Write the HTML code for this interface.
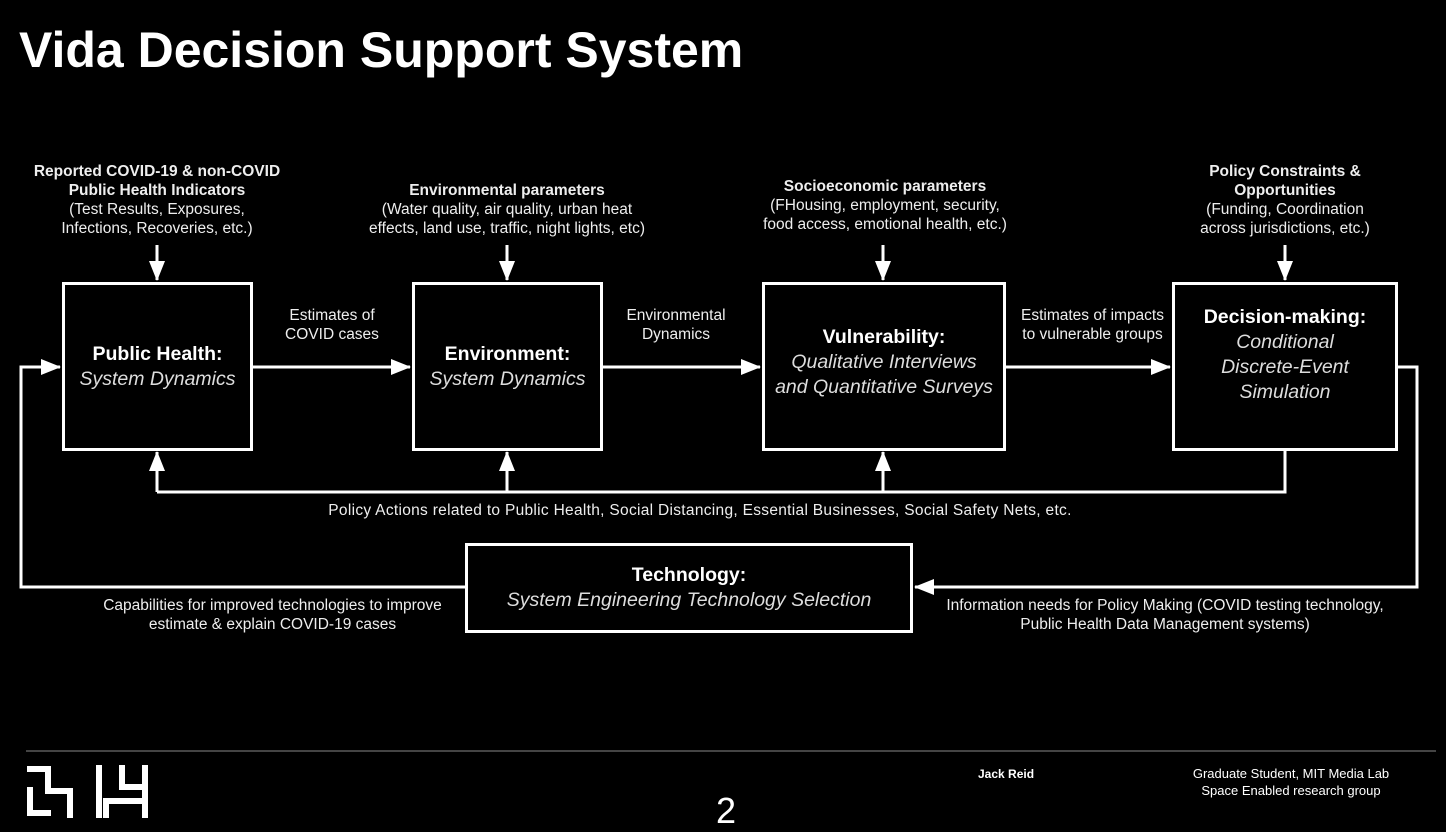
<!DOCTYPE html>
<html><head><meta charset="utf-8"><style>
body{margin:0;background:#000;width:1446px;height:830px;overflow:hidden;font-family:"Liberation Sans",sans-serif;color:#fff}
.t{position:absolute;text-align:center;font-size:15.5px;line-height:19px;color:#eee;white-space:nowrap}
.b{font-weight:bold}
.box{position:absolute;border:3px solid #fff;box-sizing:border-box;display:flex;flex-direction:column;justify-content:center;align-items:center;text-align:center;font-size:19.5px;line-height:25px;white-space:nowrap}
.box i{color:#ddd}
</style></head><body>
<div style="position:absolute;left:19px;top:21px;font-size:50px;font-weight:bold">Vida Decision Support System</div>

<div class="t" style="left:7px;top:162px;width:300px"><span class="b">Reported COVID-19 &amp; non-COVID<br>Public Health Indicators</span><br>(Test Results, Exposures,<br>Infections, Recoveries, etc.)</div>
<div class="t" style="left:347px;top:181px;width:320px"><span class="b">Environmental parameters</span><br>(Water quality, air quality, urban heat<br>effects, land use, traffic, night lights, etc)</div>
<div class="t" style="left:730px;top:177px;width:310px"><span class="b">Socioeconomic parameters</span><br>(FHousing, employment, security,<br>food access, emotional health, etc.)</div>
<div class="t" style="left:1140px;top:162px;width:290px"><span class="b">Policy Constraints &amp;<br>Opportunities</span><br>(Funding, Coordination<br>across jurisdictions, etc.)</div>

<div class="box" style="left:62px;top:282px;width:191px;height:169px"><b>Public Health:</b><i>System Dynamics</i></div>
<div class="box" style="left:412px;top:282px;width:191px;height:169px"><b>Environment:</b><i>System Dynamics</i></div>
<div class="box" style="left:762px;top:282px;width:244px;height:169px;padding-bottom:8px"><b>Vulnerability:</b><i>Qualitative Interviews<br>and Quantitative Surveys</i></div>
<div class="box" style="left:1172px;top:282px;width:226px;height:169px;padding-bottom:24px"><b>Decision-making:</b><i>Conditional<br>Discrete-Event<br>Simulation</i></div>
<div class="box" style="left:465px;top:543px;width:448px;height:90px"><b>Technology:</b><i>System Engineering Technology Selection</i></div>

<div class="t" style="left:262px;top:306px;width:140px">Estimates of<br>COVID cases</div>
<div class="t" style="left:606px;top:306px;width:140px">Environmental<br>Dynamics</div>
<div class="t" style="left:1005px;top:306px;width:175px">Estimates of impacts<br>to vulnerable groups</div>
<div class="t" style="left:250px;top:501px;width:900px;letter-spacing:0.3px">Policy Actions related to Public Health, Social Distancing, Essential Businesses, Social Safety Nets, etc.</div>
<div class="t" style="left:70px;top:596px;width:405px">Capabilities for improved technologies to improve<br>estimate &amp; explain COVID-19 cases</div>
<div class="t" style="left:910px;top:596px;width:510px">Information needs for Policy Making (COVID testing technology,<br>Public Health Data Management systems)</div>

<svg width="1446" height="830" style="position:absolute;left:0;top:0">
<defs><marker id="m" markerWidth="20" markerHeight="16" refX="19" refY="8" orient="auto" markerUnits="userSpaceOnUse"><path d="M0,0 L20,8 L0,16z" fill="#fff"/></marker></defs>
<g stroke="#fff" stroke-width="3" fill="none">
<path d="M157 245 V280" marker-end="url(#m)"/>
<path d="M507 245 V280" marker-end="url(#m)"/>
<path d="M883 245 V280" marker-end="url(#m)"/>
<path d="M1285 245 V280" marker-end="url(#m)"/>
<path d="M253 367 H410" marker-end="url(#m)"/>
<path d="M603 367 H760" marker-end="url(#m)"/>
<path d="M1006 367 H1170" marker-end="url(#m)"/>
<path d="M1285 451 V492 H157"/>
<path d="M157 492 V452" marker-end="url(#m)"/>
<path d="M507 492 V452" marker-end="url(#m)"/>
<path d="M883 492 V452" marker-end="url(#m)"/>
<path d="M465 587 H21 V367 H60" marker-end="url(#m)"/>
<path d="M1398 367 H1417 V587 H915" marker-end="url(#m)"/>
</g>
<line x1="26" y1="751" x2="1436" y2="751" stroke="#444" stroke-width="2"/>
<g stroke="#fff" stroke-width="6" fill="none" stroke-linecap="square">
<path d="M30 769 H48 V791 H70 V815"/>
<path d="M30 790 V813 H48"/>
<path d="M99 768 V815 M106 815 V801 H145 M145 768 V815 M122 768 V787 H145"/>
</g>
</svg>
<div style="position:absolute;left:978px;top:767px;font-size:12px;font-weight:bold">Jack Reid</div>
<div style="position:absolute;left:1180px;top:765px;font-size:13px;line-height:17px;text-align:center;width:222px">Graduate Student, MIT Media Lab<br>Space Enabled research group</div>
<div style="position:absolute;left:716px;top:790px;font-size:36px">2</div>
</body></html>
